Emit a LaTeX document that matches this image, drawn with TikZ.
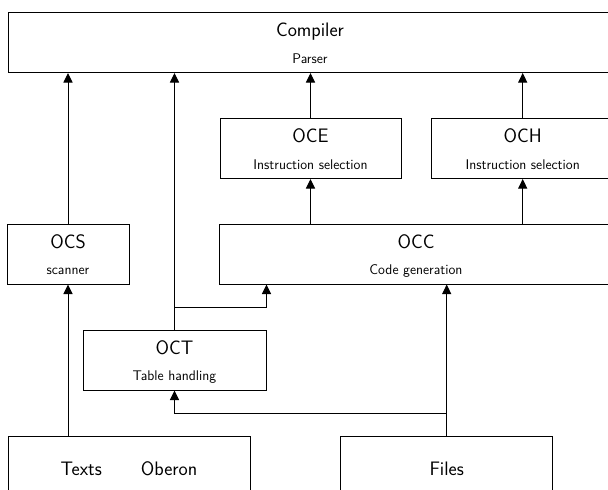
\documentclass[tikz,border=0pt]{standalone}
\usetikzlibrary{arrows.meta,positioning,calc}
\tikzset{
  mbox/.style={draw, line width=1pt, inner sep=0pt, minimum height=60pt},
  mtitle/.style={anchor=base, inner sep=0pt, font=\sffamily\fontsize{19.5}{22}\selectfont},
  msub/.style={anchor=base, inner sep=0pt, font=\sffamily\fontsize{14}{16}\selectfont},
  link/.style={-{Triangle[length=9.5pt,width=9pt]}, line width=1pt},
}
\newcommand{\modbox}[5]{%
  \node[mbox, minimum width=#3] (#1) at #2 {};
  \node[mtitle] (#1-t) at ($(#1.north)+(0,24.5)$) {#4};
  \node[msub] (#1-s) at ($(#1.north)+(0,51)$) {#5};}

\begin{document}
\begin{tikzpicture}[x=1pt, y=-1pt]
  \clip (0,0) rectangle (608,490);
  \modbox{comp}{(310,42.5)}{604pt}{Compiler}{Parser}
  \modbox{oce}{(310.5,148.5)}{181pt}{OCE}{Instruction selection}
  \modbox{och}{(522.7,148.5)}{182pt}{OCH}{Instruction selection}
  \modbox{ocs}{(68,254)}{122pt}{OCS}{scanner}
  \modbox{occ}{(416,254)}{394pt}{OCC}{Code generation}
  \modbox{oct}{(174.5,360)}{183pt}{OCT}{Table handling}
  \node[mbox, minimum width=242pt] (texts) at (129,466) {};
  \node[mtitle] (texts-t) at ($(texts.north)+(0,39.5)$) {Texts\qquad Oberon};
  \node[mbox, minimum width=212pt] (files) at (446.7,466) {};
  \node[mtitle] (files-t) at ($(files.north)+(0,39.5)$) {Files};
  \coordinate (octsplit) at ($(oct.north)!.5!(oct.north |- occ.south)$);
  \coordinate (filesplit) at ($(files.north)!.5!(files.north |- oct.south)$);
  \draw[link] (ocs.north) -- (ocs.north |- comp.south);
  \draw[link] (texts.north -| ocs.south) -- (ocs.south);
  \draw[link] (oct.north) -- (oct.north |- comp.south);
  \draw[link] (octsplit) -| (oct.north east |- occ.south);
  \draw[link] (oce.north) -- (oce.north |- comp.south);
  \draw[link] (och.north) -- (och.north |- comp.south);
  \draw[link] (oce.south |- occ.north) -- (oce.south);
  \draw[link] (och.south |- occ.north) -- (och.south);
  \draw[link] (files.north) -- (files.north |- occ.south);
  \draw[link] (filesplit) -| (oct.south);
\end{tikzpicture}
\end{document}
